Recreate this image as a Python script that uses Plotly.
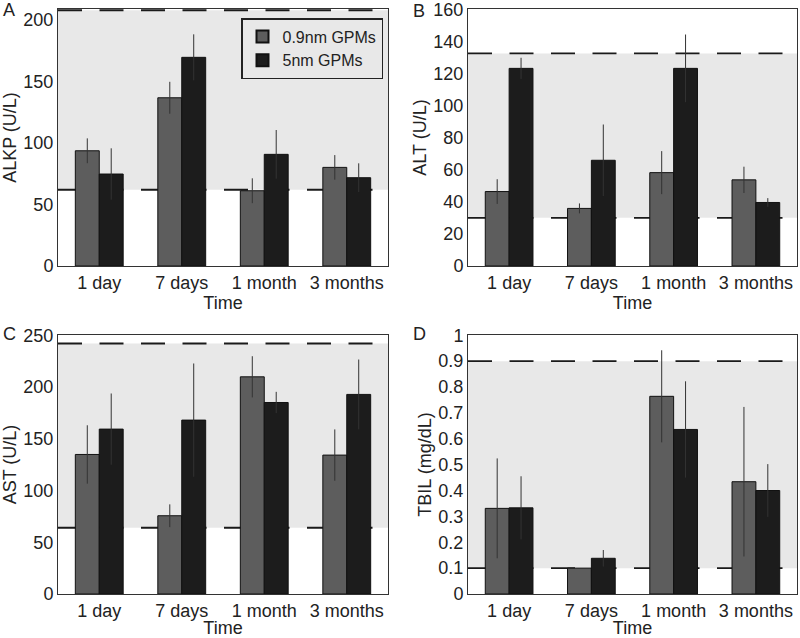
import plotly.graph_objects as go

categories = ["1 day", "7 days", "1 month", "3 months"]
series_names = ["0.9nm GPMs", "5nm GPMs"]

alkp_09 = [93.7, 136.8, 61.2, 80.2]
alkp_09_err = [10.1, 13.0, 10.1, 10.0]
alkp_5 = [74.8, 169.7, 90.8, 71.8]
alkp_5_err = [20.9, 18.7, 19.8, 11.7]
alkp_ref = [62, 208]

alt_09 = [46.4, 35.9, 58.2, 53.7]
alt_09_err = [7.7, 3.1, 13.4, 8.2]
alt_5 = [123.2, 65.9, 123.2, 39.6]
alt_5_err = [6.6, 22.3, 21.1, 2.7]
alt_ref = [30, 132.5]

ast_09 = [134.8, 75.6, 209.8, 134.2]
ast_09_err = [28.2, 11.0, 19.9, 24.8]
ast_5 = [159.3, 168.0, 185.0, 192.8]
ast_5_err = [34.4, 54.7, 10.3, 33.7]
ast_ref = [64, 242]

tbil_09 = [0.331, 0.100, 0.764, 0.434]
tbil_09_err = [0.193, 0.0, 0.178, 0.289]
tbil_5 = [0.333, 0.138, 0.636, 0.400]
tbil_5_err = [0.122, 0.032, 0.186, 0.102]
tbil_ref = [0.1, 0.9]

panels = [
    ("A", "ALKP (U/L)", alkp_09, alkp_09_err, alkp_5, alkp_5_err, alkp_ref, [0, 209], 50),
    ("B", "ALT (U/L)", alt_09, alt_09_err, alt_5, alt_5_err, alt_ref, [0, 160.2], 20),
    ("C", "AST (U/L)", ast_09, ast_09_err, ast_5, ast_5_err, ast_ref, [0, 250.2], 50),
    ("D", "TBIL (mg/dL)", tbil_09, tbil_09_err, tbil_5, tbil_5_err, tbil_ref, [0, 1.001], 0.1),
]

W, H = 800, 638
# pixel boxes: (left, right, top, bottom)
boxes = [(58, 388, 9, 266), (468, 797, 9, 266), (58, 388, 335, 594), (468, 797, 335, 594)]
letter_pos = [(9, 10), (419, 11), (9, 334), (419, 334)]

GRAY = "#5d5d5d"
BLACK = "#1c1c1c"
SHADE = "#e8e8e8"
TXT = "#222222"
FONT = "Liberation Sans, Arial, sans-serif"
FS = 18

fig = go.Figure()
shapes = []
annotations = []
layout = {}

for i, (letter, ytitle, v09, e09, v5, e5, ref, yr, dt) in enumerate(panels):
    n = i + 1
    xa = "x" if n == 1 else f"x{n}"
    ya = "y" if n == 1 else f"y{n}"
    for name, vals, errs, col in [(series_names[0], v09, e09, GRAY), (series_names[1], v5, e5, BLACK)]:
        fig.add_trace(go.Bar(
            x=categories, y=vals, name=name, xaxis=xa, yaxis=ya,
            marker=dict(color=col, line=dict(color="#111111", width=1)),
            error_y=dict(type="data", array=errs, visible=True, color="#333333", thickness=1, width=0),
            showlegend=(n == 1), legendgroup=name,
        ))
    l, r, t, b = boxes[i]
    xkey = "xaxis" if n == 1 else f"xaxis{n}"
    ykey = "yaxis" if n == 1 else f"yaxis{n}"
    layout[xkey] = dict(
        domain=[l / W, r / W], anchor=ya, type="category", range=[-0.5, 3.5],
        showline=True, mirror=True, linecolor="#333333", linewidth=1,
        ticks="", showgrid=False, zeroline=False, automargin=False,
        ticklabeloverflow="allow",
        tickfont=dict(size=FS, color=TXT, family=FONT),
        title=dict(text="Time", font=dict(size=FS, color=TXT, family=FONT), standoff=0),
    )
    layout[ykey] = dict(
        domain=[1 - b / H, 1 - t / H], anchor=xa, range=yr, dtick=dt, tick0=0,
        showline=True, mirror=True, linecolor="#333333", linewidth=1,
        ticks="", showgrid=False, zeroline=False, automargin=False,
        ticklabeloverflow="allow",
        tickfont=dict(size=FS, color=TXT, family=FONT),
        title=dict(text=ytitle, font=dict(size=FS, color=TXT, family=FONT), standoff=2),
    )
    xd = f"{xa} domain"
    shapes.append(dict(type="rect", xref=xd, yref=ya, x0=0, x1=1, y0=ref[0], y1=ref[1],
                       fillcolor=SHADE, line=dict(width=0), layer="below"))
    for yv in ref:
        shapes.append(dict(type="line", xref=xd, yref=ya, x0=0, x1=1, y0=yv, y1=yv,
                           line=dict(color="#1a1a1a", width=1.8, dash="24px,17.5px"), layer="below"))
    lx, ly = letter_pos[i]
    annotations.append(dict(text=letter, x=lx / W, y=1 - ly / H, xref="paper", yref="paper",
                            xanchor="center", yanchor="middle", showarrow=False,
                            font=dict(size=FS, color=TXT, family=FONT)))

fig.update_layout(
    width=W, height=H, autosize=False,
    margin=dict(l=0, r=0, t=0, b=0, autoexpand=False),
    paper_bgcolor="white", plot_bgcolor="white",
    barmode="group", bargap=0.42, bargroupgap=0,
    shapes=shapes, annotations=annotations,
    legend=dict(x=383 / W, y=1 - 18 / H, xanchor="right", yanchor="top",
                bgcolor="rgba(0,0,0,0)", bordercolor="#222222", borderwidth=1.5,
                font=dict(size=16, color=TXT, family=FONT), tracegroupgap=0,
                itemsizing="constant", traceorder="normal", itemwidth=30),
    **layout,
)

fig.write_html("out.html", config={"displayModeBar": False},
               post_script="document.body.style.margin='0px';document.body.style.overflow='hidden';")
